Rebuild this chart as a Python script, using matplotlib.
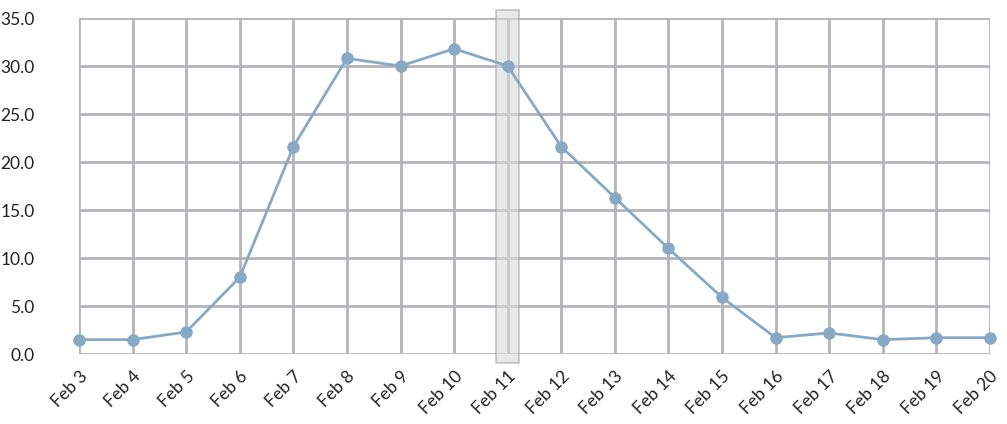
import matplotlib
matplotlib.use("Agg")
import matplotlib.pyplot as plt
from matplotlib.patches import Rectangle

days = ["Feb 3", "Feb 4", "Feb 5", "Feb 6", "Feb 7", "Feb 8", "Feb 9", "Feb 10", "Feb 11",
        "Feb 12", "Feb 13", "Feb 14", "Feb 15", "Feb 16", "Feb 17", "Feb 18", "Feb 19", "Feb 20"]
values = [1.5, 1.5, 2.3, 8.0, 21.6, 30.8, 30.0, 31.8, 30.0,
          21.6, 16.3, 11.0, 5.9, 1.7, 2.2, 1.5, 1.7, 1.7]
yticks = [0, 5, 10, 15, 20, 25, 30, 35]
highlight = "Feb 11"

plt.rcParams['font.family'] = ['Lato', 'DejaVu Sans']

fig = plt.figure(figsize=(10.07, 4.24), dpi=100)
ax = fig.add_axes([0.0785, 0.165, 0.9045, 0.7925])

x = list(range(len(days)))
grid_c = "#b4b4b9"
for xi in x:
    ax.axvline(xi, color=grid_c, lw=2, zorder=1)
for yv in yticks:
    ax.axhline(yv, color=grid_c, lw=2, zorder=1)

hi = days.index(highlight)
ax.add_patch(Rectangle((hi - 0.21, -0.95), 0.42, 36.75, facecolor="#d9d9d9", alpha=0.6,
                       edgecolor="#a0a0a0", lw=1.2, clip_on=False, zorder=2))

ax.plot(x, values, color="#87a9c5", lw=2, marker="o", ms=8, zorder=3, clip_on=False)

ax.set_xlim(0, len(days) - 1)
ax.set_ylim(0, 35)
ax.set_yticks(yticks)
ax.set_yticklabels([f"{v:.1f}" for v in yticks], fontsize=12.5, color="#222222")
ax.set_xticks(x)
ax.set_xticklabels(days, rotation=45, ha="right", rotation_mode="anchor", fontsize=12.5, color="#222222")
ax.tick_params(axis="y", length=0, pad=32)
ax.tick_params(axis="x", length=0, pad=10)
for s in ax.spines.values():
    s.set_visible(False)

fig.savefig("out.png", dpi=100)
